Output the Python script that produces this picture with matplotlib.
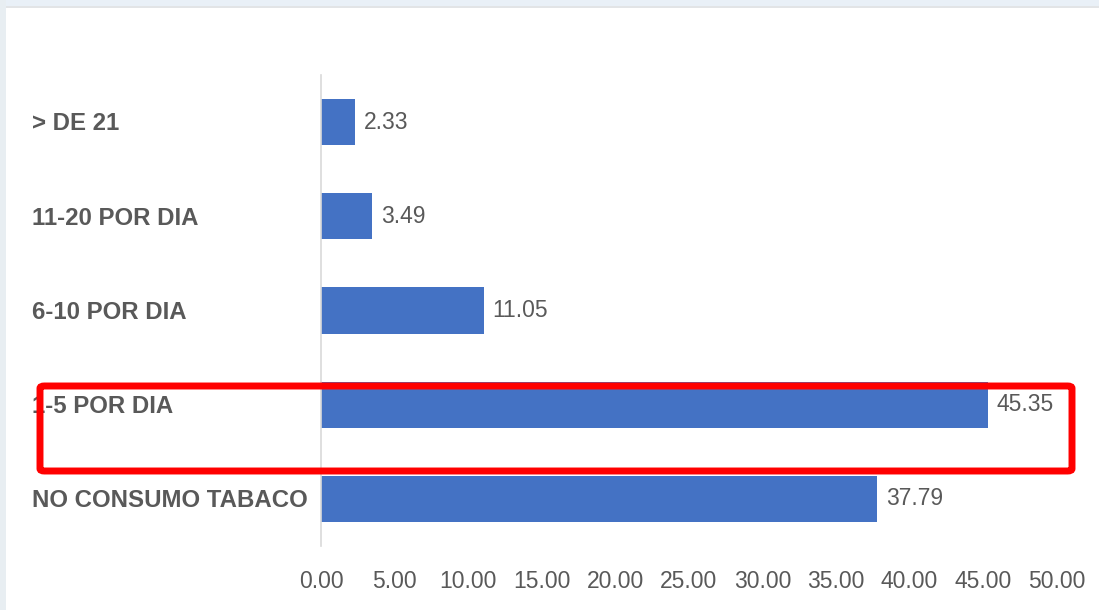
import matplotlib.pyplot as plt
from matplotlib.patches import FancyBboxPatch, Rectangle

categories = ["NO CONSUMO TABACO", "1-5 POR DIA", "6-10 POR DIA", "11-20 POR DIA", "> DE 21"]
values = [37.79, 45.35, 11.05, 3.49, 2.33]
xticks = [0, 5, 10, 15, 20, 25, 30, 35, 40, 45, 50]

BAR_COLOR = "#4472c4"
TEXT_COLOR = "#595959"

plt.rcParams["font.family"] = ["Liberation Sans", "DejaVu Sans"]

fig = plt.figure(figsize=(10.99, 6.10), dpi=100)
fig.patch.set_facecolor("white")

# screenshot border strips
fig.add_artist(Rectangle((0, 1 - 6 / 610), 1, 6 / 610, transform=fig.transFigure,
                         facecolor="#e9f0f7", edgecolor="none"))
fig.add_artist(Rectangle((0, 1 - 8 / 610), 1, 2 / 610, transform=fig.transFigure,
                         facecolor="#e2e4e6", edgecolor="none"))
fig.add_artist(Rectangle((0, 0), 6 / 1099, 1, transform=fig.transFigure,
                         facecolor="#e8eef2", edgecolor="none"))

ax = fig.add_axes([321 / 1099, 1 - 546 / 610, (1056.5 - 321) / 1099, (546 - 75) / 610])
ax.barh(range(len(categories)), values, height=0.49, color=BAR_COLOR)

for i, v in enumerate(values):
    ax.text(v + 0.6, i, f"{v:.2f}", va="center", ha="left", fontsize=16.5, color=TEXT_COLOR)

ax.set_xlim(0, 50)
ax.set_ylim(-0.5, len(categories) - 0.5)
ax.set_xticks(xticks)
ax.set_xticklabels([f"{t:.2f}" for t in xticks], fontsize=16.5, color=TEXT_COLOR)
ax.set_yticks(range(len(categories)))
ax.set_yticklabels([])
ax.tick_params(axis="both", length=0)
ax.tick_params(axis="x", pad=17)

for i, c in enumerate(categories):
    ax.text(-289 / 14.71, i - 0.02, c, ha="left", va="center", fontsize=17.3, fontweight="bold",
            color=TEXT_COLOR, transform=ax.transData)

for s in ["top", "right", "bottom"]:
    ax.spines[s].set_visible(False)
ax.spines["left"].set_color("#d9d9d9")
ax.spines["left"].set_linewidth(1.2)

# red highlight box
fig.add_artist(FancyBboxPatch((40 / 1099, 1 - 471 / 610), (1072 - 40) / 1099, (471 - 386) / 610,
                              boxstyle="round,pad=0,rounding_size=0.004",
                              transform=fig.transFigure, facecolor="none",
                              edgecolor="#ff0000", linewidth=5, zorder=10))

plt.savefig("out.png", dpi=100)
